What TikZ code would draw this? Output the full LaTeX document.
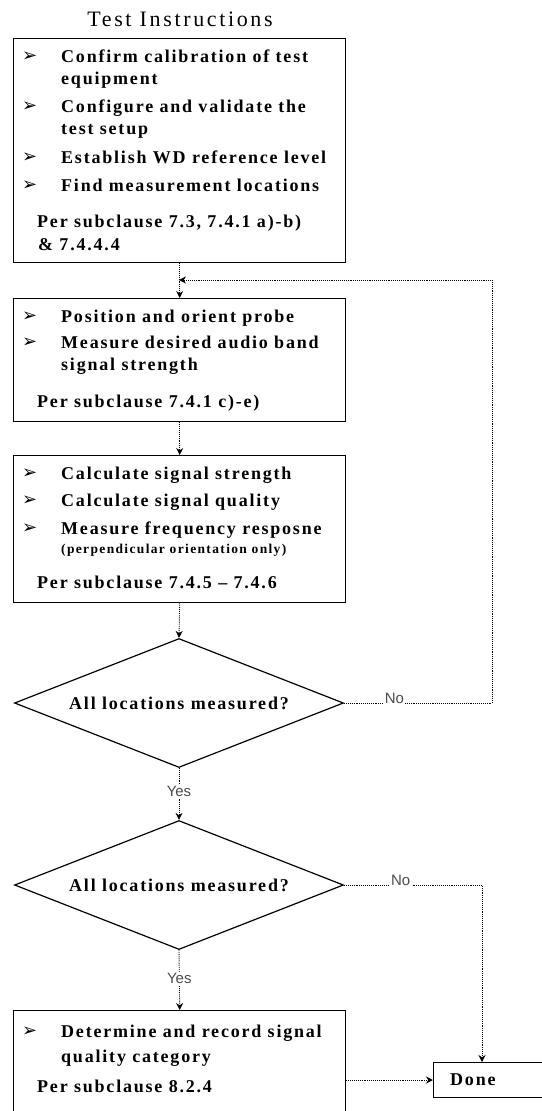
\documentclass[tikz,border=0pt]{standalone}
\usepackage{fontspec}
\setmainfont{Liberation Serif}[LetterSpace=10]
\newfontfamily\titlefont{Liberation Serif}[LetterSpace=12]
\newfontfamily\labfont{Liberation Sans}
\newfontfamily\bulfont{DejaVu Sans}
\usetikzlibrary{shapes.geometric,arrows.meta}
\begin{document}
\begin{tikzpicture}[x=1pt,y=-1pt,
  box/.style={draw, line width=1.4pt, anchor=north west, inner sep=0, minimum width=332pt},
  txt/.style={anchor=base west, inner sep=0, font=\fontsize{18}{20}\bfseries\selectfont},
  small/.style={anchor=base west, inner sep=0, font=\fontsize{13.5}{15}\bfseries\selectfont},
  bul/.style={anchor=base west, inner sep=0, font=\bulfont\fontsize{18}{20}\selectfont},
  dec/.style={draw, shape=diamond, line width=1.2pt, minimum width=329pt, minimum height=129pt, inner sep=0, aspect=2.5, font=\fontsize{18}{20}\bfseries\selectfont},
  conn/.style={densely dotted, line width=0.9pt, -{Stealth[length=7pt,width=7pt]}},
  lab/.style={font=\labfont\fontsize{15}{17}\selectfont, text=black!70, fill=white, inner sep=1.5pt}]
\useasboundingbox (0,0) rectangle (541,1111);

\node[anchor=base, inner sep=0, font=\titlefont\fontsize{22}{24}\selectfont] (title) at (180,26) {Test Instructions};

% Box 1
\node[box, minimum height=224pt] (b1) at (13,38) {};
\node[bul] (b1u1) at (22,61) {➢};
\node[txt] (b1t1) at (61,62) {Confirm calibration of test};
\node[txt] (b1t2) at (61,84) {equipment};
\node[bul] (b1u2) at (22,111) {➢};
\node[txt] (b1t3) at (61,112) {Configure and validate the};
\node[txt] (b1t4) at (61,134) {test setup};
\node[bul] (b1u3) at (22,162) {➢};
\node[txt] (b1t5) at (61,163) {Establish WD reference level};
\node[bul] (b1u4) at (22,190) {➢};
\node[txt] (b1t6) at (61,191) {Find measurement locations};
\node[txt] (b1t7) at (37,227) {Per subclause 7.3, 7.4.1 a)-b)};
\node[txt] (b1t8) at (38,250) {\& 7.4.4.4};

% Box 2
\node[box, minimum height=123pt] (b2) at (13,298) {};
\node[bul] (b2u1) at (22,321) {➢};
\node[txt] (b2t1) at (61,322) {Position and orient probe};
\node[bul] (b2u2) at (22,347) {➢};
\node[txt] (b2t2) at (61,348) {Measure desired audio band};
\node[txt] (b2t3) at (61,370) {signal strength};
\node[txt] (b2t4) at (37,407) {Per subclause 7.4.1 c)-e)};

% Box 3
\node[box, minimum height=147pt] (b3) at (13,455) {};
\node[bul] (b3u1) at (22,478) {➢};
\node[txt] (b3t1) at (61,479) {Calculate signal strength};
\node[bul] (b3u2) at (22,505) {➢};
\node[txt] (b3t2) at (61,506) {Calculate signal quality};
\node[bul] (b3u3) at (22,533) {➢};
\node[txt] (b3t3) at (61,534) {Measure frequency resposne};
\node[small] (b3t4) at (61,553) {(perpendicular orientation only)};
\node[txt] (b3t5) at (37,588) {Per subclause 7.4.5 – 7.4.6};

% Diamonds
\node[dec] (d1) at (179,703) {All locations measured?};
\node[dec] (d2) at (179,885) {All locations measured?};

% Box 4
\node[box, minimum height=103pt] (b4) at (13,1010) {};
\node[bul] (b4u1) at (22,1036) {➢};
\node[txt] (b4t1) at (61,1037) {Determine and record signal};
\node[txt] (b4t2) at (61,1062) {quality category};
\node[txt] (b4t3) at (37,1092) {Per subclause 8.2.4};

% Done
\node[draw, line width=1pt, anchor=north west, inner sep=0, minimum width=112pt, minimum height=35pt] (done) at (433,1062) {};
\node[txt] (donet) at (450,1085) {Done};

% Connectors
\coordinate (j1) at (179,280);
\coordinate (c1) at (492,703);
\coordinate (c2) at (482,885);
\draw[conn] (b1.south) -- (b2.north);
\draw[conn] (d1.east) -- node[lab, anchor=base, pos=0.34]{No} (c1) -- (c1 |- j1) -- (j1);
\draw[conn] (b2.south) -- (b3.north);
\draw[conn] (b3.south) -- (d1.north);
\draw[conn] (d1.south) -- node[lab, pos=0.45]{Yes} (d2.north);
\draw[conn] (d2.east) -- node[lab, anchor=base, pos=0.41]{No} (c2) -- (c2 |- done.north);
\draw[conn] (d2.south) -- node[lab, pos=0.48]{Yes} (b4.north);
\draw[conn] (b4.east |- done.west) -- (done.west);
\end{tikzpicture}
\end{document}
